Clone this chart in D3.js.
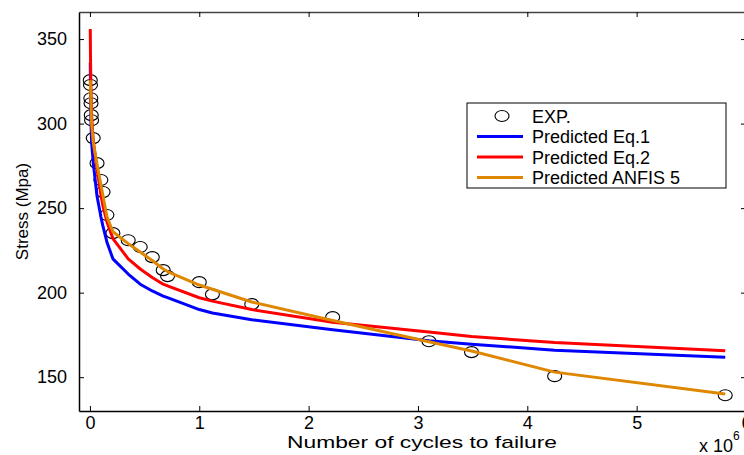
<!DOCTYPE html>
<html>
<head>
<meta charset="utf-8">
<script src="https://cdn.jsdelivr.net/npm/d3@7"></script>
<style>
  body { margin: 0; background: #fff; }
  text { font-family: "Liberation Sans", Arial, sans-serif; fill: #000; }
</style>
</head>
<body>
<svg id="grafica" width="744" height="455"></svg>
<script>
// Stress vs number of cycles to failure (cycles in units of 1e6)

// numero de ciclos de los ensayos (x 10^6)
const cycles = [0.003, 0.005, 0.008, 0.01, 0.012, 0.015, 0.03, 0.065, 0.1, 0.12,
  0.155, 0.21, 0.35, 0.46, 0.57, 0.67, 0.71, 1.0, 1.12, 1.48,
  2.22, 3.1, 3.49, 4.25, 5.81];

// esfuerzo experimental
const exp_stress = [325.7, 322.8, 315, 312, 305, 302, 291.4, 276.6, 266.6, 259.5,
  245.9, 235.2, 231, 227, 221, 213.3, 209.8, 206.2, 199, 193.2,
  185.5, 171.3, 164.8, 150.6, 139.3];

// predicciones
const eq1_stress = [336, 322, 306, 299, 295, 289, 277, 257, 245, 239,
  230, 220, 211, 205, 201, 198, 197, 190, 188, 184,
  178, 171.5, 169.5, 166, 161.8];
const eq2_stress = [356, 340, 325, 318, 312, 305, 290, 273, 258, 251,
  242, 232, 220, 214, 209, 205, 204, 197, 195, 190,
  182.5, 176.7, 174, 170.5, 165.6];
const anfis_stress = [325.7, 322, 315, 311, 305, 300, 289, 276, 264, 257,
  245, 236, 229, 224, 219, 214, 212.5, 204.5, 202, 194.5,
  183.5, 171, 165.5, 153, 140];

const x_ticks = [0, 1, 2, 3, 4, 5, 6];
const y_ticks = [150, 200, 250, 300, 350];

const series = [
  {label: "Predicted Eq.1", values: eq1_stress, color: "#0000ff"},
  {label: "Predicted Eq.2", values: eq2_stress, color: "#ff0000"},
  {label: "Predicted ANFIS 5", values: anfis_stress, color: "#df8700"}
];

const margin = {l: 79, r: -2, t: 12, b: 44};
const svg_w = 744, svg_h = 455;

let svg = d3.select("#grafica");

let x_scale = d3.scaleLinear()
  .domain([-0.1, 6])
  .range([margin.l, svg_w - margin.r]);

let y_scale = d3.scaleLinear()
  .domain([130, 366])
  .range([svg_h - margin.b, margin.t]);

// experimental points (drawn first, lines go on top)
svg.append("g")
  .selectAll("ellipse")
  .data(cycles.map((c, i) => ({x: c, y: exp_stress[i]})))
  .enter().append("ellipse")
  .attr("cx", d => x_scale(d.x))
  .attr("cy", d => y_scale(d.y))
  .attr("rx", 7)
  .attr("ry", 5.5)
  .attr("fill", "none")
  .attr("stroke", "#000")
  .attr("stroke-width", 1.1);

let line = d3.line()
  .x((d, i) => x_scale(cycles[i]))
  .y(d => y_scale(d));

svg.append("g")
  .selectAll("path")
  .data(series)
  .enter().append("path")
  .attr("d", d => line(d.values))
  .attr("fill", "none")
  .attr("stroke", d => d.color)
  .attr("stroke-width", 3)
  .attr("stroke-linejoin", "round");

// box
const x0 = x_scale.range()[0], x1 = x_scale.range()[1];
const y0 = y_scale.range()[0], y1 = y_scale.range()[1];

// axes with inward ticks
let x_axis = svg.append("g")
  .attr("transform", `translate(0,${y0})`)
  .call(d3.axisBottom(x_scale).tickValues(x_ticks).tickFormat(d3.format("d"))
    .tickSizeInner(-5).tickSizeOuter(0).tickPadding(5));
let x_axis_top = svg.append("g")
  .attr("transform", `translate(0,${y1})`)
  .call(d3.axisTop(x_scale).tickValues(x_ticks).tickSizeInner(-5).tickSizeOuter(0).tickFormat(""));
let y_axis = svg.append("g")
  .attr("transform", `translate(${x0},0)`)
  .call(d3.axisLeft(y_scale).tickValues(y_ticks).tickSizeInner(-5).tickSizeOuter(0).tickPadding(12));
let y_axis_right = svg.append("g")
  .attr("transform", `translate(${x1},0)`)
  .call(d3.axisRight(y_scale).tickValues(y_ticks).tickSizeInner(-5).tickSizeOuter(0).tickFormat(""));

[x_axis, x_axis_top, y_axis, y_axis_right].forEach(a => {
  a.select(".domain").attr("stroke", "#000").attr("stroke-width", 1.5);
  a.selectAll(".tick line").attr("stroke", "#000");
  a.selectAll(".tick text").attr("font-size", 18).attr("font-family", "Liberation Sans, Arial, sans-serif");
});
x_axis_top.select(".domain").attr("stroke", "#444");
y_axis_right.select(".domain").attr("stroke", "#444");

// axis titles
svg.append("text")
  .attr("x", 287)
  .attr("y", 448)
  .attr("font-size", 17)
  .attr("textLength", 270)
  .attr("lengthAdjust", "spacingAndGlyphs")
  .text("Number of cycles to failure");

svg.append("text")
  .attr("transform", `translate(28,${(y0 + y1) / 2}) rotate(-90)`)
  .attr("text-anchor", "middle")
  .attr("font-size", 17)
  .text("Stress (Mpa)");

let mult = svg.append("text")
  .attr("x", 699)
  .attr("y", 452)
  .attr("font-size", 18);
mult.append("tspan").text("x 10");
mult.append("tspan").attr("font-size", 12).attr("dy", -12).text("6");

// legend
let legend = svg.append("g").attr("transform", "translate(467,103)");
legend.append("rect")
  .attr("width", 259).attr("height", 85)
  .attr("fill", "#fff").attr("stroke", "#000").attr("stroke-width", 1);

let rows = [{label: "EXP.", color: null}].concat(series);
let row = legend.selectAll("g.row")
  .data(rows)
  .enter().append("g")
  .attr("class", "row")
  .attr("transform", (d, i) => `translate(0,${13 + i * 20.5})`);

row.filter(d => d.color === null).append("ellipse")
  .attr("cx", 35).attr("cy", 0).attr("rx", 7).attr("ry", 5.5)
  .attr("fill", "none").attr("stroke", "#000").attr("stroke-width", 1.1);
row.filter(d => d.color !== null).append("line")
  .attr("x1", 10).attr("x2", 56).attr("y1", 0).attr("y2", 0)
  .attr("stroke", d => d.color).attr("stroke-width", 3);
row.append("text")
  .attr("x", 65).attr("y", 6.5)
  .attr("font-size", 18)
  .text(d => d.label);
</script>
</body>
</html>
